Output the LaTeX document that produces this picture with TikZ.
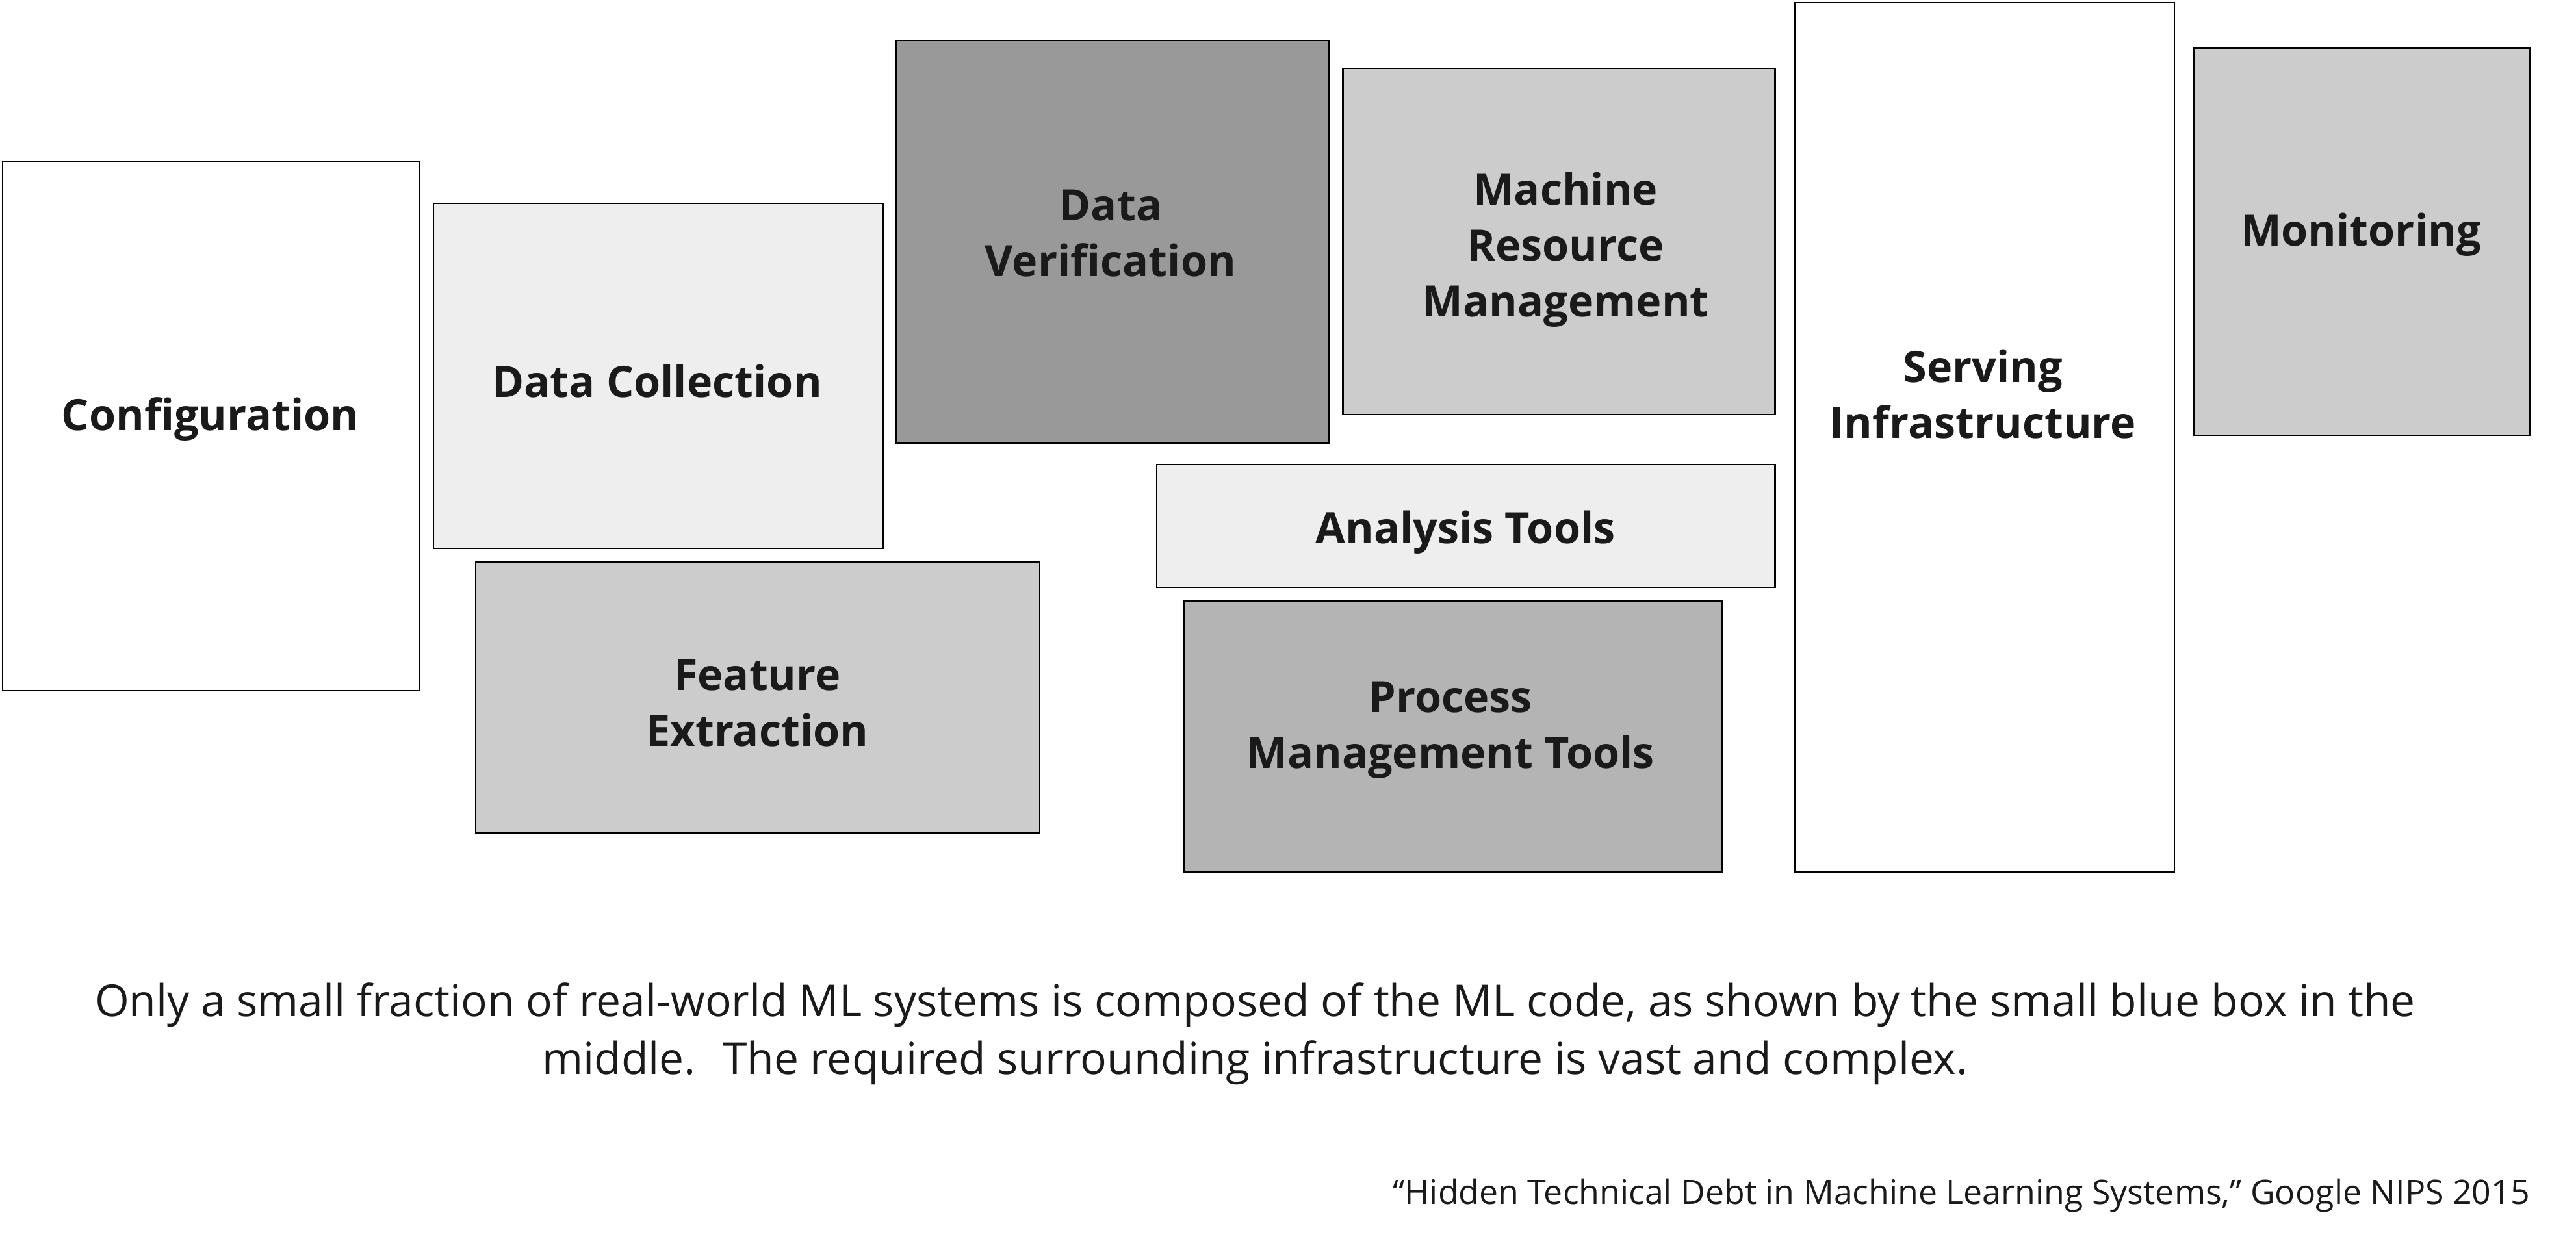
\documentclass[tikz,border=0pt]{standalone}
\usepackage{fontspec}
\setmainfont{Open Sans}
\definecolor{txt}{HTML}{1A1A1A}
\definecolor{gLight}{HTML}{EEEEEE}
\definecolor{gMid}{HTML}{CCCCCC}
\definecolor{gProc}{HTML}{B4B4B4}
\definecolor{gDark}{HTML}{999999}
\begin{document}
\begin{tikzpicture}[x=1pt,y=-1pt,
  box/.style={draw=black, line width=0.9pt, inner sep=0pt, anchor=north west},
  lbl/.style={font=\bfseries\fontsize{26.3}{34}\selectfont, text=txt, align=center, inner sep=0pt},
  capt/.style={font=\fontsize{26.8}{35}\selectfont, text=txt, align=center, inner sep=0pt}]
\useasboundingbox (0,0) rectangle (1568,754);
% boxes
\node[box, fill=white, minimum width=254pt, minimum height=322pt] (conf) at (1,98) {};
\node[box, fill=gLight, minimum width=273.5pt, minimum height=210pt] (dcol) at (263.5,123.5) {};
\node[box, fill=gMid, minimum width=343.5pt, minimum height=165pt] (fext) at (289,341.5) {};
\node[box, fill=gDark, minimum width=263.5pt, minimum height=245.5pt] (dver) at (545,24) {};
\node[box, fill=gMid, minimum width=263pt, minimum height=211pt] (mrm) at (817,41) {};
\node[box, fill=gLight, minimum width=376.5pt, minimum height=74.5pt] (ana) at (703.5,282.5) {};
\node[box, fill=gProc, minimum width=327.5pt, minimum height=165pt] (pmt) at (720.5,365.5) {};
\node[box, fill=white, minimum width=231pt, minimum height=529.5pt] (serv) at (1092,1) {};
\node[box, fill=gMid, minimum width=204.5pt, minimum height=235.5pt] (mon) at (1335,29) {};
% labels
\node[lbl] (conf-t) at (128,255) {Configuration};
\node[lbl] (dcol-t) at (400,232) {Data Collection};
\node[lbl] (fext-t) at (461,428) {Feature\\Extraction};
\node[lbl] (dver-t) at (676,142) {Data\\Verification};
\node[lbl] (mrm-t) at (953,152) {Machine\\Resource\\Management};
\node[lbl] (ana-t) at (892,324) {Analysis Tools};
\node[lbl] (pmt-t) at (883,444.5) {Process\\Management Tools};
\node[lbl] (serv-t) at (1207,240) {Serving\\Infrastructure};
\node[lbl] (mon-t) at (1437,143) {Monitoring};
% caption
\node[capt] (caption) at (764,629.5) {Only a small fraction of real-world ML systems is composed of the ML code, as shown by the small blue box in the\\middle.~ The required surrounding infrastructure is vast and complex.};
\node[font=\fontsize{20.5}{24}\selectfont, text=txt, inner sep=0pt, anchor=east] (cite) at (1540,728) {“Hidden Technical Debt in Machine Learning Systems,” Google NIPS 2015};
\end{tikzpicture}
\end{document}
